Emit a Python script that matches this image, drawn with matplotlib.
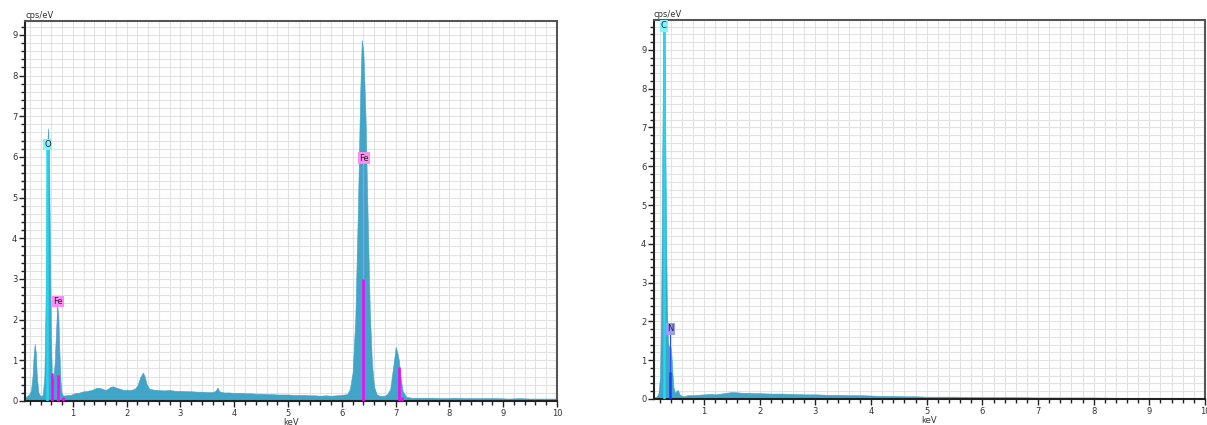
import matplotlib
matplotlib.use("Agg")
import matplotlib.pyplot as plt
from matplotlib.ticker import MultipleLocator

# ---------------- data ----------------
energy_left = [0.10, 0.14, 0.18, 0.22, 0.25, 0.27, 0.29, 0.31, 0.33, 0.36, 0.40, 0.44,
               0.47, 0.49, 0.51, 0.53, 0.54, 0.555, 0.57, 0.59, 0.61, 0.63, 0.66, 0.69,
               0.71, 0.73, 0.75, 0.77, 0.79, 0.82, 0.86, 0.90, 0.95, 1.00, 1.05, 1.10,
               1.15, 1.20, 1.25, 1.30, 1.35, 1.40, 1.45, 1.50, 1.55, 1.60, 1.65, 1.70,
               1.75, 1.80, 1.85, 1.90, 1.95, 2.00, 2.05, 2.10, 2.15, 2.20, 2.25, 2.30,
               2.33, 2.37, 2.42, 2.50, 2.60, 2.70, 2.80, 2.90, 3.00, 3.10, 3.20, 3.30,
               3.40, 3.50, 3.60, 3.65, 3.69, 3.72, 3.80, 3.90, 4.00, 4.10, 4.20, 4.30,
               4.40, 4.50, 4.60, 4.70, 4.80, 4.90, 5.00, 5.10, 5.20, 5.30, 5.40, 5.50,
               5.60, 5.70, 5.80, 5.90, 6.00, 6.10, 6.15, 6.20, 6.25, 6.30, 6.34, 6.37,
               6.40, 6.44, 6.48, 6.52, 6.56, 6.60, 6.65, 6.70, 6.80, 6.85, 6.90, 6.94,
               6.98, 7.00, 7.03, 7.06, 7.09, 7.13, 7.20, 7.30, 7.50, 7.70, 7.90, 8.10,
               8.30, 8.50, 8.70, 8.90, 9.10, 9.30, 9.50, 9.70, 10.00]
cps_left = [0.05, 0.12, 0.15, 0.25, 0.60, 1.10, 1.40, 1.20, 0.60, 0.20, 0.12, 0.15,
            0.60, 2.20, 4.80, 6.50, 6.70, 6.20, 4.20, 1.80, 0.60, 0.50, 0.90, 1.80,
            2.32, 2.10, 1.20, 0.50, 0.20, 0.13, 0.14, 0.15, 0.15, 0.17, 0.20, 0.20,
            0.22, 0.24, 0.24, 0.26, 0.27, 0.30, 0.33, 0.32, 0.30, 0.27, 0.30, 0.35,
            0.36, 0.33, 0.31, 0.29, 0.27, 0.28, 0.27, 0.28, 0.30, 0.38, 0.58, 0.70,
            0.62, 0.42, 0.30, 0.28, 0.27, 0.26, 0.27, 0.25, 0.25, 0.24, 0.24, 0.23,
            0.23, 0.22, 0.22, 0.25, 0.33, 0.24, 0.21, 0.21, 0.20, 0.20, 0.19, 0.19,
            0.18, 0.18, 0.17, 0.17, 0.16, 0.16, 0.16, 0.15, 0.15, 0.15, 0.14, 0.14,
            0.13, 0.14, 0.13, 0.14, 0.15, 0.17, 0.30, 0.70, 2.00, 4.80, 7.50, 8.87,
            8.60, 7.00, 4.50, 2.20, 0.90, 0.35, 0.16, 0.13, 0.13, 0.18, 0.30, 0.70,
            1.10, 1.33, 1.20, 1.00, 0.60, 0.25, 0.10, 0.08, 0.08, 0.08, 0.07, 0.08,
            0.07, 0.07, 0.07, 0.07, 0.06, 0.07, 0.06, 0.06, 0.06]

energy_right = [0.10, 0.15, 0.18, 0.21, 0.23, 0.25, 0.27, 0.29, 0.31, 0.33, 0.35, 0.37,
                0.39, 0.41, 0.43, 0.45, 0.48, 0.51, 0.53, 0.56, 0.60, 0.65, 0.70, 0.80,
                0.90, 1.00, 1.10, 1.20, 1.30, 1.40, 1.50, 1.60, 1.70, 1.80, 1.90, 2.00,
                2.20, 2.40, 2.60, 2.80, 3.00, 3.20, 3.40, 3.60, 3.80, 4.00, 4.20, 4.40,
                4.60, 4.80, 5.00, 5.50, 6.00, 6.50, 7.00, 7.50, 8.00, 8.50, 9.00, 9.50,
                10.00]
cps_right = [0.04, 0.06, 0.15, 0.60, 2.50, 6.50, 10.50, 9.50, 5.50, 2.50, 1.50, 1.30,
             1.40, 1.20, 0.70, 0.30, 0.15, 0.22, 0.23, 0.12, 0.08, 0.07, 0.10, 0.10,
             0.11, 0.12, 0.13, 0.12, 0.14, 0.16, 0.18, 0.17, 0.16, 0.16, 0.15, 0.15,
             0.14, 0.14, 0.13, 0.12, 0.12, 0.11, 0.11, 0.10, 0.10, 0.09, 0.08, 0.08,
             0.07, 0.07, 0.06, 0.06, 0.05, 0.05, 0.04, 0.04, 0.04, 0.03, 0.03, 0.03,
             0.03]

# element marker lines: (energy, relative height, colour) and labels
left_labels = [("O", 0.525, 6.30, "#7ff6ff"), ("Fe", 0.72, 2.45, "#ff8cf5"), ("Fe", 6.41, 5.97, "#ff8cf5")]
left_lines = [(0.525, 6.2, "#20d8f0"), (0.615, 0.69, "#ff00ff"),
              (0.718, 0.64, "#ff00ff"), (0.82, 0.10, "#ff00ff"),
              (6.40, 3.00, "#ff00ff"), (7.06, 0.84, "#ff00ff"), (7.11, 0.10, "#ff00ff")]
left_guides = [(0.705, 2.32, "#ff40ff"), (6.40, 5.85, "#ff66ee")]

right_labels = [("C", 0.277, 9.62, "#7ff6ff"), ("N", 0.392, 1.81, "#9a9aff")]
right_lines = [(0.277, 9.5, "#20d8f0"), (0.392, 0.70, "#1a3cff")]
right_guides = [(0.392, 1.70, "#2a4cff")]

xlim_left = (0.11, 10.0)
ylim_left = (0.0, 9.34)
xlim_right = (0.10, 10.0)
ylim_right = (0.0, 9.77)

SPEC = "#41a5c7"

fig = plt.figure(figsize=(12.07, 4.25), dpi=100)
axL = fig.add_axes([25 / 1207, 1 - 401 / 425, (557 - 25) / 1207, (401 - 21) / 425])
axR = fig.add_axes([654 / 1207, 1 - 399 / 425, (1205 - 654) / 1207, (399 - 20) / 425])


def style(ax, xlim, ylim):
    ax.set_xlim(*xlim)
    ax.set_ylim(*ylim)
    ax.xaxis.set_major_locator(MultipleLocator(1))
    ax.xaxis.set_minor_locator(MultipleLocator(0.2))
    ax.yaxis.set_major_locator(MultipleLocator(1))
    ax.yaxis.set_minor_locator(MultipleLocator(0.2))
    ax.grid(True, which="both", color="#e3e3e3", linewidth=0.8)
    ax.set_axisbelow(True)
    ax.tick_params(which="major", direction="out", length=4, width=1, labelsize=6,
                   pad=1.5, color="#222222", labelcolor="#333333")
    ax.tick_params(which="minor", direction="out", length=3, width=1, color="#222222")
    for s in ("left", "bottom"):
        ax.spines[s].set_color("#222222")
        ax.spines[s].set_linewidth(1.5)
    for s in ("top", "right"):
        ax.spines[s].set_color("#555555")
        ax.spines[s].set_linewidth(1.5)
    ax.set_xlabel("keV", fontsize=6, labelpad=0, color="#333333")
    ax.text(0.0, 1.003, "cps/eV", transform=ax.transAxes, fontsize=6,
            va="bottom", ha="left", color="#333333")


def draw(ax, E, v, lines, guides, labels):
    ax.fill_between(E, 0, v, color=SPEC, linewidth=0.4, edgecolor=SPEC, zorder=2)
    for e, h, c in guides:
        ax.vlines(e, 0, h, color=c, linewidth=0.8, zorder=3)
    for e, h, c in lines:
        ax.vlines(e, 0, h, color=c, linewidth=1.8, zorder=3)
    for t, e, y, c in labels:
        ax.text(e, y, t, fontsize=6, ha="center", va="center", color="#222222", zorder=5,
                bbox=dict(boxstyle="square,pad=0.15", fc=c, ec="none"))


style(axL, xlim_left, ylim_left)
style(axR, xlim_right, ylim_right)
draw(axL, energy_left, cps_left, left_lines, left_guides, left_labels)
draw(axR, energy_right, cps_right, right_lines, right_guides, right_labels)

fig.savefig("out.png", dpi=100)
